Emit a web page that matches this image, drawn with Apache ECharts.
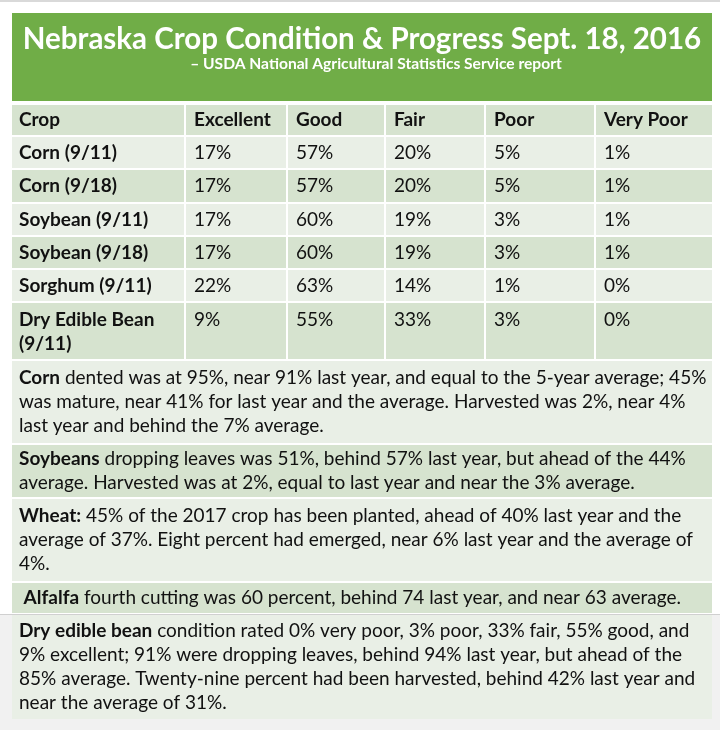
<!DOCTYPE html>
<html>
<head>
<meta charset="utf-8">
<script src="https://cdn.jsdelivr.net/npm/echarts@6/dist/echarts.min.js"></script>
<style>html,body{margin:0;padding:0;background:#fff}#c{width:720px;height:730px}</style>
</head>
<body>
<div id="c"></div>
<script>
// ---- data ----
const titleText = 'Nebraska Crop Condition & Progress Sept. 18, 2016';
const subtitleText = '– USDA National Agricultural Statistics Service report';
const columns = ['Crop', 'Excellent', 'Good', 'Fair', 'Poor', 'Very Poor'];
const crops = ['Corn (9/11)', 'Corn (9/18)', 'Soybean (9/11)', 'Soybean (9/18)', 'Sorghum (9/11)', 'Dry Edible Bean\n(9/11)'];
const excellent = [17, 17, 17, 17, 22, 9];
const good = [57, 57, 60, 60, 63, 55];
const fair = [20, 20, 19, 19, 14, 33];
const poor = [5, 5, 3, 3, 1, 3];
const veryPoor = [1, 1, 1, 1, 0, 0];
const noteLeads = ['Corn', 'Soybeans', 'Wheat:', ' Alfalfa', 'Dry edible bean'];
const noteBodies = [
  ' dented was at 95%, near 91% last year, and equal to the 5-year average; 45%\nwas mature, near 41% for last year and the average. Harvested was 2%, near 4%\nlast year and behind the 7% average.',
  ' dropping leaves was 51%, behind 57% last year, but ahead of the 44%\naverage. Harvested was at 2%, equal to last year and near the 3% average.',
  ' 45% of the 2017 crop has been planted, ahead of 40% last year and the\naverage of 37%. Eight percent had emerged, near 6% last year and the average of\n4%.',
  ' fourth cutting was 60 percent, behind 74 last year, and near 63 average.',
  ' condition rated 0% very poor, 3% poor, 33% fair, 55% good, and\n9% excellent; 91% were dropping leaves, behind 94% last year, but ahead of the\n85% average. Twenty-nine percent had been harvested, behind 42% last year and\nnear the average of 31%.'
];

// ---- layout (axis units, page-sized axes) ----
const FONT = 'Lato, "Open Sans", sans-serif';
const FS = 19;
const colEdges = [12, 185, 287, 385, 485, 595, 712];
const rowEdges = [105, 136, 169, 203, 236, 269, 302, 360, 444, 498, 582, 614, 720];
const nTableRows = 1 + crops.length;
const DARK = '#d6e3cf', LIGHT = '#e9efe6';

const valueCols = [excellent, good, fair, poor, veryPoor];
const cells = [];
columns.forEach((c, j) => cells.push({row: 0, c0: j, c1: j + 1, text: c, bold: true}));
crops.forEach((name, i) => {
  cells.push({row: i + 1, c0: 0, c1: 1, text: name, bold: true});
  valueCols.forEach((arr, j) => cells.push({row: i + 1, c0: j + 1, c1: j + 2, text: arr[i] + '%', bold: false}));
});
noteLeads.forEach((lead, k) => cells.push({row: nTableRows + k, c0: 0, c1: 6, note: true,
  text: '{b|' + lead + '}' + noteBodies[k]}));

function renderCell(params, api) {
  const c = cells[params.dataIndex];
  const x0 = colEdges[c.c0] + (c.c0 === 0 ? 0 : 1);
  const x1 = colEdges[c.c1] - (c.c1 === 6 ? 0 : 1);
  const y0 = rowEdges[c.row] + (c.row === 0 ? 0 : 1);
  const y1 = rowEdges[c.row + 1] - 1;
  const p0 = api.coord([x0, y0]);
  const p1 = api.coord([x1, y1]);
  const w = p1[0] - p0[0], h = p1[1] - p0[1];
  const fill = c.row % 2 === 0 ? DARK : LIGHT;
  let tx = p0[0] + 7, ty, va;
  if (c.note) { ty = p0[1] + h / 2; va = 'middle'; }
  else if (h > 40) { ty = p0[1] + 5; va = 'top'; }
  else { ty = p0[1] + h / 2; va = 'middle'; }
  if (!c.note && c.c0 > 0) tx = p0[0] + 8;
  return {
    type: 'group',
    children: [
      {type: 'rect', shape: {x: p0[0], y: p0[1], width: w, height: h}, style: {fill: fill}},
      {type: 'text', x: tx, y: ty, style: {
        text: c.text, fill: '#111',
        fontFamily: FONT, fontSize: FS, fontWeight: c.bold ? 'bold' : 'normal',
        lineHeight: 24, verticalAlign: va, align: 'left',
        rich: c.note ? {b: {fontWeight: 'bold', fontSize: FS, fontFamily: FONT, fill: '#111', lineHeight: 24}} : undefined
      }}
    ]
  };
}

const chart = echarts.init(document.getElementById('c'), null, {renderer: 'canvas'});
chart.setOption({
  backgroundColor: '#ffffff',
  animation: false,
  graphic: [
    {type: 'rect', shape: {x: 0, y: 0, width: 720, height: 2}, style: {fill: '#d9d9d9'}, z: 0},
    {type: 'rect', shape: {x: 0, y: 614, width: 720, height: 116}, style: {fill: '#f1f1f1'}, z: 0},
    {type: 'rect', shape: {x: 0, y: 614, width: 720, height: 1}, style: {fill: '#d0d0d0'}, z: 0},
    {type: 'rect', shape: {x: 12, y: 13, width: 700, height: 88}, style: {fill: '#70ad47'}, z: 1},
    {type: 'text', x: 362, y: 39, z: 5, style: {text: titleText, fill: '#fff', fontFamily: FONT, fontSize: 29.5, fontWeight: 'bold', align: 'center', verticalAlign: 'middle'}},
    {type: 'text', x: 376, y: 64, z: 5, style: {text: subtitleText, fill: '#fff', fontFamily: FONT, fontSize: 15.6, fontWeight: 'bold', align: 'center', verticalAlign: 'middle'}}
  ],
  grid: {left: 0, right: 0, top: 0, bottom: 0},
  xAxis: {type: 'value', min: 0, max: 720, show: false},
  yAxis: {type: 'value', min: 0, max: 730, inverse: true, show: false},
  series: [{
    type: 'custom',
    renderItem: renderCell,
    data: cells.map(c => [c.c0, c.row]),
    z: 2,
    clip: false
  }]
});
</script>
</body>
</html>
